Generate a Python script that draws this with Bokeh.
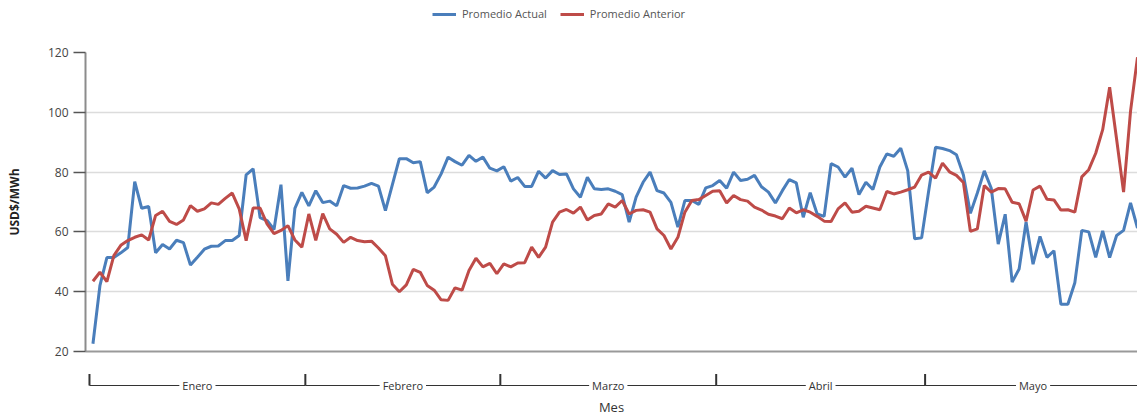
import numpy as np
from bokeh.plotting import figure
from bokeh.models import Range1d, ColumnDataSource, Legend, LegendItem, FixedTicker
from bokeh.layouts import column
from bokeh.embed import file_html
from bokeh.resources import INLINE
from bokeh.core.properties import value

# ---------------- data ----------------
months = ["Enero", "Febrero", "Marzo", "Abril", "Mayo"]
month_days = [31, 28, 31, 30, 31]
y_ticks = [20, 40, 60, 80, 100, 120]
y_title = "USD$/MWh"
x_title = "Mes"
series_names = ["Promedio Actual", "Promedio Anterior"]

promedio_actual = [
    22.6, 42.0, 51.4, 51.4, 53.0, 54.8, 76.8, 67.9, 68.5, 53.0,
    55.8, 54.3, 57.2, 56.4, 48.9, 51.5, 54.2, 55.2, 55.3, 57.1,
    57.1, 58.8, 79.1, 81.1, 64.8, 63.8, 60.8, 75.8, 43.6, 67.9,
    73.2, 68.7, 73.8, 69.8, 70.3, 68.7, 75.5, 74.6, 74.7, 75.3,
    76.2, 75.3, 67.1, 75.8, 84.5, 84.5, 83.1, 83.5, 73.1, 75.0,
    79.4, 85.0, 83.5, 82.3, 85.6, 83.6, 85.0, 81.3, 80.4, 81.8,
    77.0, 78.2, 75.2, 75.2, 80.3, 78.0, 80.5, 79.2, 79.4, 74.4,
    71.6, 78.3, 74.4, 74.2, 74.4, 73.6, 72.5, 63.3, 71.6, 76.6,
    80.0, 73.8, 73.0, 69.9, 61.6, 70.5, 70.5, 69.2, 74.7, 75.5,
    77.2, 74.6, 80.0, 77.2, 77.6, 78.9, 75.1, 73.3, 69.7, 73.8,
    77.5, 76.4, 64.9, 73.1, 66.0, 65.2, 82.8, 81.7, 78.3, 81.3,
    72.5, 76.6, 74.2, 81.7, 86.1, 85.3, 88.0, 80.5, 57.7, 58.0,
    73.5, 88.3, 87.9, 87.2, 85.8, 79.0, 66.2, 73.0, 80.4, 74.6,
    55.9, 65.9, 43.2, 47.6, 63.3, 49.2, 58.5, 51.5, 53.7, 35.8,
    35.8, 43.0, 60.5, 60.0, 51.5, 60.3, 51.4, 58.8, 60.5, 69.7,
    61.3,
]

promedio_anterior = [
    43.5, 46.5, 43.4, 52.1, 55.5, 57.1, 58.2, 59.0, 57.3, 65.5,
    66.9, 63.5, 62.5, 64.0, 68.8, 66.9, 67.7, 69.7, 69.2, 71.2,
    73.0, 67.7, 57.1, 68.0, 68.0, 62.7, 59.4, 60.5, 62.1, 57.3,
    54.9, 66.0, 57.2, 66.1, 61.0, 59.2, 56.5, 58.2, 57.1, 56.7,
    56.9, 54.6, 52.0, 42.5, 40.0, 42.3, 47.5, 46.5, 42.1, 40.5,
    37.3, 37.1, 41.3, 40.5, 47.1, 51.2, 48.3, 49.5, 46.0, 49.3,
    48.3, 49.6, 49.7, 54.9, 51.5, 54.9, 63.3, 66.6, 67.5, 66.3,
    68.3, 64.0, 65.5, 66.0, 69.4, 68.3, 70.5, 66.0, 67.2, 67.4,
    66.6, 61.0, 58.8, 54.3, 58.2, 66.6, 70.5, 70.8, 72.2, 73.6,
    73.8, 69.7, 72.2, 70.8, 70.3, 68.3, 67.3, 65.9, 65.3, 64.4,
    68.0, 66.4, 67.4, 66.6, 65.2, 63.6, 63.5, 67.7, 69.7, 66.6,
    66.9, 68.6, 68.0, 67.4, 73.5, 72.7, 73.3, 74.1, 75.0, 79.0,
    80.0, 78.0, 83.0, 80.1, 78.9, 76.5, 60.2, 61.0, 75.5, 73.3,
    74.5, 74.4, 69.9, 69.4, 63.6, 74.0, 75.3, 70.9, 70.7, 67.3,
    67.4, 66.6, 78.4, 80.8, 86.3, 94.2, 108.4, 91.0, 73.3, 100.4,
    118.4,
]

# ---------------- styling ----------------
FONT = "Open Sans"
BLUE = "#4a7ebb"
RED = "#be4b48"
W = 1137
LEFT = 85

day = np.arange(len(promedio_actual))
x_range = Range1d(-1.07, 150.0)

src = ColumnDataSource(dict(day=day, actual=promedio_actual, anterior=promedio_anterior))

# ---------------- legend strip ----------------
# same series drawn in a strip whose y range lies above the data, so only the legend shows
lg = figure(width=W, height=30, x_range=x_range, y_range=Range1d(1000, 1001),
            output_backend="svg", toolbar_location=None,
            x_axis_location=None, y_axis_location=None,
            min_border_left=LEFT, min_border_right=0, min_border_top=0, min_border_bottom=0)
lg.outline_line_color = None
lg.xgrid.visible = False
lg.ygrid.visible = False
g1 = lg.line("day", "actual", source=src, line_color=BLUE, line_width=3)
g2 = lg.line("day", "anterior", source=src, line_color=RED, line_width=3)
legend = Legend(items=[LegendItem(label=series_names[0], renderers=[g1]),
                       LegendItem(label=series_names[1], renderers=[g2])],
                location=(347, 9), orientation="horizontal",
                padding=0, margin=0, spacing=13,
                glyph_width=24, glyph_height=12, label_height=12,
                label_standoff=6, label_text_font=FONT,
                label_text_font_size="11px", label_text_color="#555555",
                border_line_color=None, background_fill_alpha=0)
lg.add_layout(legend)

# ---------------- main chart ----------------
p = figure(width=W, height=330, x_range=x_range, y_range=Range1d(20, 120),
           output_backend="svg", toolbar_location=None,
           min_border_left=LEFT, min_border_right=0,
           min_border_top=22, min_border_bottom=9)
p.outline_line_color = None

p.line("day", "actual", source=src, line_color=BLUE, line_width=3)
p.line("day", "anterior", source=src, line_color=RED, line_width=3)

ya = p.yaxis[0]
ya.ticker = FixedTicker(ticks=y_ticks)
ya.axis_line_color = "#8c8c8c"
ya.axis_line_width = 2
ya.major_tick_out = 12
ya.major_tick_in = 0
ya.major_tick_line_color = "#555555"
ya.major_tick_line_width = 1.5
ya.minor_tick_line_color = None
ya.major_label_text_font = FONT
ya.major_label_text_font_size = "12px"
ya.major_label_text_color = "#444444"
ya.major_label_standoff = 5
ya.axis_label = y_title
ya.axis_label_text_font = FONT
ya.axis_label_text_font_size = "12px"
ya.axis_label_text_font_style = "bold"
ya.axis_label_text_color = "#222222"
ya.axis_label_standoff = 22

xa = p.xaxis[0]
xa.ticker = FixedTicker(ticks=[])
xa.axis_line_color = "#999999"
xa.axis_line_width = 2
xa.major_tick_out = 0
xa.major_tick_in = 0
xa.minor_tick_line_color = None
xa.major_label_standoff = 0

p.xgrid.visible = False
p.ygrid.grid_line_color = "#dcdcdc"
p.ygrid.grid_line_width = 1.5

# ---------------- month bracket axis ----------------
starts = np.cumsum([0] + month_days[:-1]) - 0.5
ends = starts + np.array(month_days)
centers = (starts + ends) / 2.0

LINE_Y = 30
TICK_TOP = 41.5

q = figure(width=W, height=55, x_range=x_range, y_range=Range1d(0, 55),
           output_backend="svg", toolbar_location=None,
           x_axis_location=None, y_axis_location=None,
           min_border_left=LEFT, min_border_right=0,
           min_border_top=0, min_border_bottom=0)
q.outline_line_color = None
q.xgrid.visible = False
q.ygrid.visible = False

q.segment(x0=starts, x1=ends, y0=LINE_Y, y1=LINE_Y, line_color="#333333", line_width=1.2)
q.segment(x0=starts, x1=starts, y0=LINE_Y, y1=TICK_TOP, line_color="#333333", line_width=2)
q.text(x=centers, y=[LINE_Y] * len(months), text=months,
       text_font=value(FONT), text_font_size="11px", text_color="#333333",
       text_align="center", text_baseline="middle",
       background_fill_color="white", padding=3)
q.text(x=[(x_range.start + x_range.end) / 2.0], y=[8.5], text=[x_title],
       text_font=value(FONT), text_font_size="13px", text_color="#333333",
       text_align="center", text_baseline="middle")

layout = column(lg, p, q, spacing=0)
open("out.html", "w").write(file_html(layout, INLINE))
